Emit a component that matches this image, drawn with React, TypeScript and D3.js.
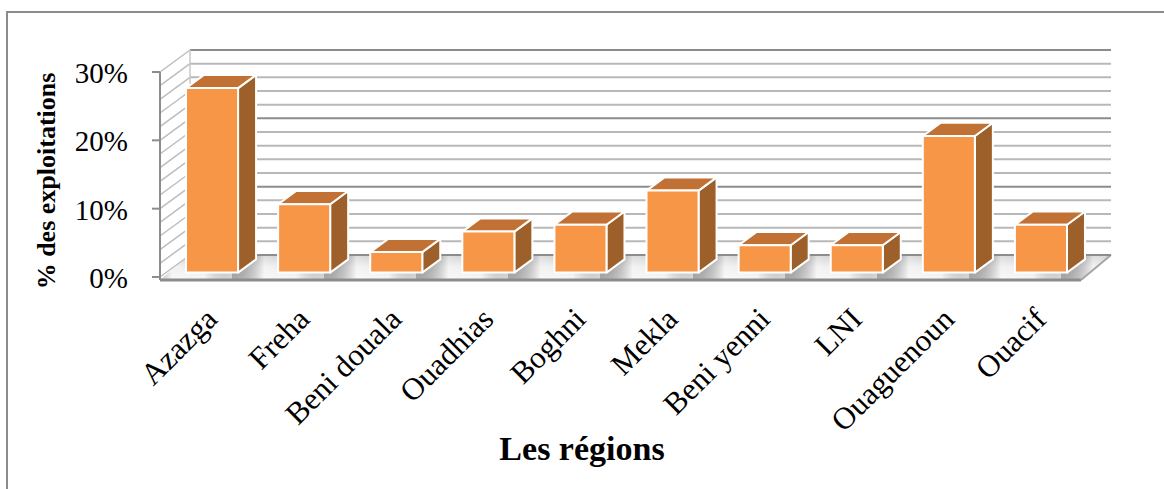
import * as d3 from 'd3';

const regions = ['Azazga', 'Freha', 'Beni douala', 'Ouadhias', 'Boghni', 'Mekla', 'Beni yenni', 'LNI', 'Ouaguenoun', 'Ouacif'];
const shares = [27, 10, 3, 6, 7, 12, 4, 4, 20, 7];
const tickValues = [0, 10, 20, 30];
const gridValues = d3.range(0, 31, 2);

const W = 1164;
const H = 489;
// front plane of the 3D box
const X0 = 160;
const Y0 = 277;
const PLOT_W = 921;
const DX = 30; // depth offset
const DY = 22;
const D0 = 0.2; // bar front depth
const D1 = 0.8; // bar back depth

const FRONT = '#F79646';
const TOP = '#C07133';
const SIDE = '#9E602A';

export default function App() {
  const x = d3.scaleBand<string>().domain(regions).range([0, PLOT_W]).paddingInner(0.435).paddingOuter(0.2175);
  const y = d3.scaleLinear().domain([0, 30]).range([0, 205]);
  const bw = x.bandwidth();
  const ddx = (D1 - D0) * DX;
  const ddy = (D1 - D0) * DY;
  const pts = (a: number[][]) => a.map(p => p.join(',')).join(' ');
  const floor = pts([[X0, Y0 + 3], [X0 + PLOT_W, Y0 + 3], [X0 + PLOT_W + DX, Y0 - DY], [X0 + DX, Y0 - DY]]);

  return (
    <svg width={W} height={H} style={{ position: 'absolute', left: 0, top: 0, background: '#fff' }}>
      <defs>
        <linearGradient id="floorBase" x1="0" y1="0" x2="0" y2="1">
          <stop offset="0" stopColor="#a8a8a8" />
          <stop offset="0.45" stopColor="#dedede" />
          <stop offset="1" stopColor="#f2f2f2" />
        </linearGradient>
        <linearGradient
          id="floorShade"
          gradientUnits="userSpaceOnUse"
          x1={X0 + (x(regions[0]) ?? 0) + bw}
          y1={0}
          x2={X0 + (x(regions[0]) ?? 0) + bw + x.step()}
          y2={0}
          spreadMethod="repeat"
        >
          <stop offset="0" stopColor="#000" stopOpacity="0.3" />
          <stop offset="0.35" stopColor="#fff" stopOpacity="0.6" />
          <stop offset="0.7" stopColor="#fff" stopOpacity="0.35" />
          <stop offset="1" stopColor="#000" stopOpacity="0.1" />
        </linearGradient>
      </defs>

      {/* outer border */}
      <rect x={7} y={12} width={W + 20} height={H + 20} fill="none" stroke="#8c8c8c" strokeWidth={2} />

      {/* floor */}
      <polygon points={floor} fill="url(#floorBase)" />
      <polygon points={floor} fill="url(#floorShade)" />
      <line x1={X0} x2={X0 + PLOT_W} y1={Y0 + 3} y2={Y0 + 3} stroke="#8c8c8c" strokeWidth={3} />
      <line x1={X0 + PLOT_W} x2={X0 + PLOT_W + DX} y1={Y0 + 3} y2={Y0 - DY} stroke="#a6a6a6" strokeWidth={2} />

      {/* back wall grid */}
      {gridValues.map(v => (
        <line
          key={'b' + v}
          x1={X0 + DX}
          x2={X0 + DX + PLOT_W}
          y1={Y0 - DY - y(v)}
          y2={Y0 - DY - y(v)}
          stroke={v % 10 === 0 ? '#8c8c8c' : '#b8b8b8'}
          strokeWidth={2}
        />
      ))}

      {/* side wall grid */}
      {gridValues.map(v => (
        <line
          key={'s' + v}
          x1={X0}
          x2={X0 + DX}
          y1={Y0 - y(v)}
          y2={Y0 - DY - y(v)}
          stroke="#bdbdbd"
          strokeWidth={1.5}
        />
      ))}
      <line x1={X0 + DX} x2={X0 + DX} y1={Y0 - DY - y(30)} y2={Y0 - DY} stroke="#c8c8c8" strokeWidth={1.5} />

      {/* value axis */}
      <line x1={X0} x2={X0} y1={Y0 - y(30)} y2={Y0 + 3} stroke="#8c8c8c" strokeWidth={2} />
      {tickValues.map(v => (
        <g key={'t' + v}>
          <line x1={X0 - 8} x2={X0} y1={Y0 - y(v)} y2={Y0 - y(v)} stroke="#8c8c8c" strokeWidth={2} />
          <text
            x={X0 - 32}
            y={Y0 - y(v) + 11}
            textAnchor="end"
            fontFamily="'Liberation Serif', 'Times New Roman', serif"
            fontSize={29}
            fill="#000"
          >
            {v}%
          </text>
        </g>
      ))}

      {/* bars */}
      {regions.map((r, i) => {
        const xl = X0 + (x(r) ?? 0) + D0 * DX;
        const xr = xl + bw;
        const yb = Y0 - D0 * DY;
        const yt = yb - y(shares[i]);
        return (
          <g key={r} stroke="#fff" strokeWidth={2} strokeLinejoin="round">
            <polygon points={pts([[xr, yt], [xr + ddx, yt - ddy], [xr + ddx, yb - ddy], [xr, yb]])} fill={SIDE} />
            <polygon points={pts([[xl, yt], [xr, yt], [xr + ddx, yt - ddy], [xl + ddx, yt - ddy]])} fill={TOP} />
            <rect x={xl} y={yt} width={bw} height={yb - yt} fill={FRONT} />
          </g>
        );
      })}

      {/* category labels */}
      {regions.map(r => {
        const cx = X0 + (x(r) ?? 0) + bw / 2 + 13;
        const cy = 321;
        return (
          <text
            key={'l' + r}
            transform={`translate(${cx},${cy}) rotate(-45)`}
            textAnchor="end"
            fontFamily="'Liberation Serif', 'Times New Roman', serif"
            fontSize={31}
            fill="#000"
          >
            {r}
          </text>
        );
      })}

      {/* axis titles */}
      <text
        transform="translate(55,181) rotate(-90)"
        textAnchor="middle"
        fontFamily="'Liberation Serif', 'Times New Roman', serif"
        fontWeight="bold"
        fontSize={26}
        fill="#000"
      >
        % des exploitations
      </text>
      <text
        x={582}
        y={460}
        textAnchor="middle"
        fontFamily="'Liberation Serif', 'Times New Roman', serif"
        fontWeight="bold"
        fontSize={34}
        fill="#000"
      >
        Les régions
      </text>
    </svg>
  );
}
